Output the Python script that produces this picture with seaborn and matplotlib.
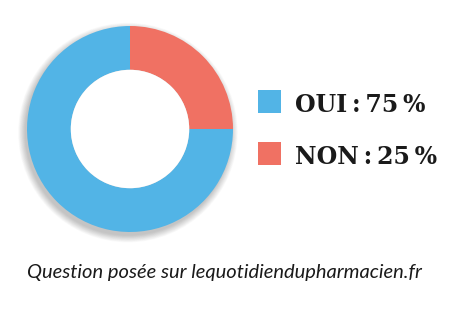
import matplotlib
matplotlib.use("Agg")
import matplotlib.pyplot as plt
import seaborn as sns
from matplotlib.patches import Circle, Rectangle

categories = ["OUI", "NON"]
values = [75, 25]
colors = ["#52B4E6", "#F07163"]
caption = "Question posée sur lequotidiendupharmacien.fr"

sns.set_theme(style="white")
W, H = 465, 310
fig = plt.figure(figsize=(W / 100, H / 100), dpi=100)
fig.patch.set_facecolor("white")

# donut axes: center (130,129) px from top-left, outer radius 103 px
cx, cy, r = 130, 129, 103
pad = 1.25
ax = fig.add_axes([(cx - r * pad) / W, (H - cy - r * pad) / H, 2 * r * pad / W, 2 * r * pad / H])
ax.set_xlim(-pad, pad)
ax.set_ylim(-pad, pad)
ax.set_aspect("equal")
ax.axis("off")

# soft shadow
for i in range(12):
    rr = 1.0 + 0.006 * i
    ax.add_patch(Circle((-0.02, -0.035), rr, color="black", alpha=0.018, lw=0, zorder=0))

ax.pie(values, colors=colors, startangle=90, counterclock=True, radius=1.0,
       wedgeprops=dict(width=0.425, edgecolor="none", linewidth=0),
       frame=False)
ax.add_patch(Circle((0, 0), 0.575, color="white", lw=0, zorder=5))
ax.set_xlim(-pad, pad)
ax.set_ylim(-pad, pad)

# legend
sq = 23
for i, (cat, val, col) in enumerate(zip(categories, values, colors)):
    top = 90 + i * 52
    fig.patches.append(Rectangle((258 / W, (H - top - sq) / H), sq / W, sq / H,
                                 transform=fig.transFigure, facecolor=col, edgecolor="none"))
    fig.text(295 / W, (H - (top + 22)) / H, f"{cat}\u2009:\u2009{val}\u2009%",
             fontsize=17, fontweight="bold", family=["DejaVu Serif"], color="#1a1a1a",
             ha="left", va="baseline")

fig.text(224 / W, (H - 278) / H, caption, fontsize=14.5, style="italic",
         family=["Lato", "DejaVu Sans"], color="#1a1a1a", ha="center", va="baseline")

fig.savefig("out.png", dpi=100, facecolor="white")
